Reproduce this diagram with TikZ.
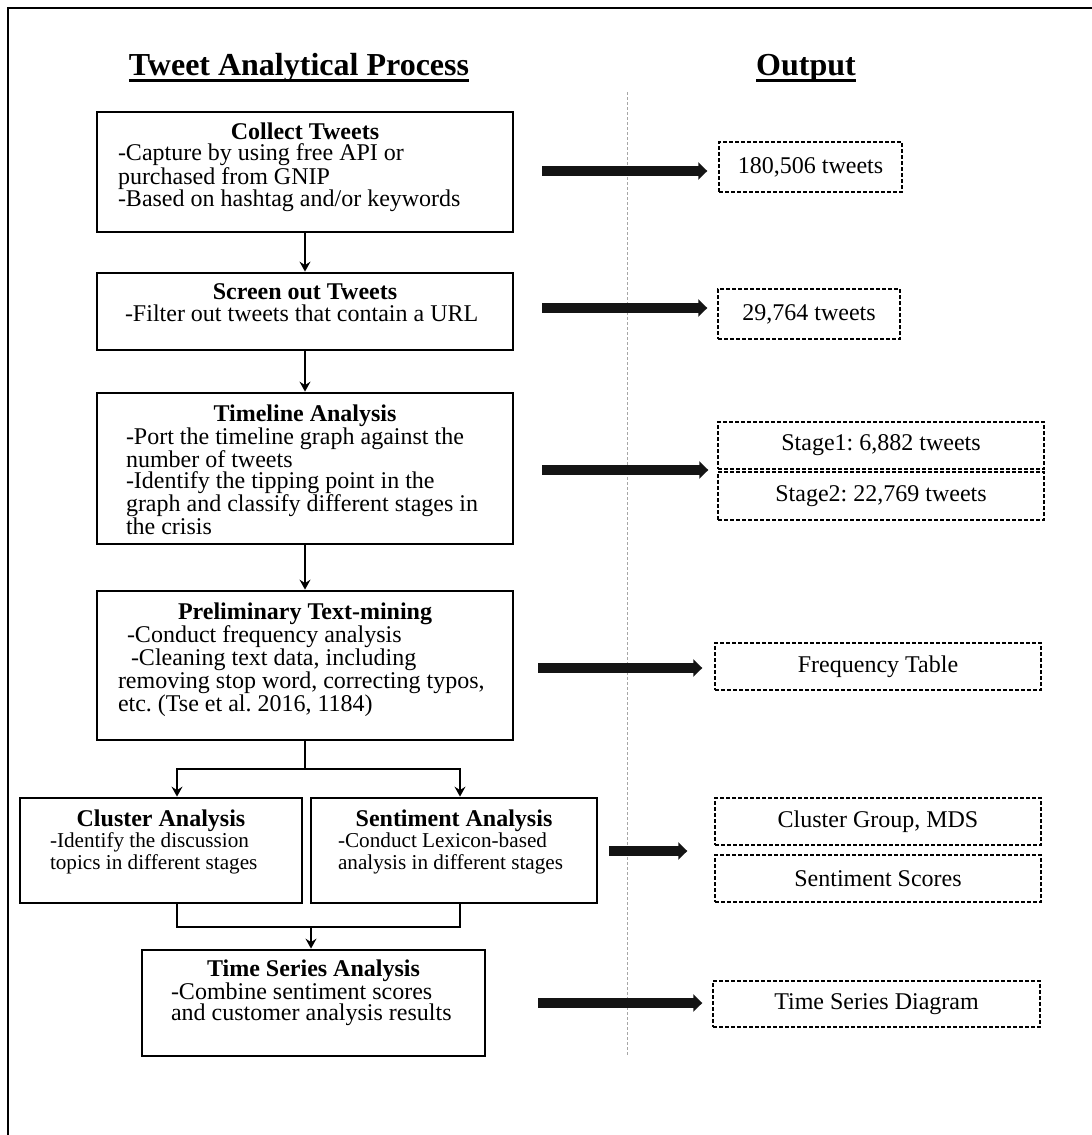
\documentclass[tikz,border=0pt]{standalone}
\usepackage{fontspec}
\setmainfont{Liberation Serif}
\usetikzlibrary{arrows.meta,calc}
\setlength{\lineskiplimit}{-20pt}
\frenchspacing

\begin{document}
\begin{tikzpicture}[x=1pt,y=1pt,font=\fontsize{24}{21.5}\selectfont]
  \useasboundingbox (0,0) rectangle (1092,-1135);

  % frame and divider
  \draw[line width=2pt] (8,-1135) -- (8,-8) -- (1092,-8);
  \draw[gray!70,line width=1pt,dash pattern=on 3pt off 2pt] (627,-92) -- (627,-1055);

  % headings
  \begin{scope}[every node/.style={anchor=base,inner sep=0pt,font=\fontsize{32}{36}\selectfont\bfseries}]
    \node (head1) at (299,-75) {Tweet Analytical Process};
    \node (head2) at (806,-75) {Output};
  \end{scope}
  \draw[line width=3pt] ([yshift=-5pt]head1.base west) -- ([yshift=-5pt]head1.base east);
  \draw[line width=3pt] ([yshift=-5pt]head2.base west) -- ([yshift=-5pt]head2.base east);

  % process boxes
  \begin{scope}[every node/.style={draw,line width=2.8pt,inner sep=0pt}]
    \node[minimum width=416pt,minimum height=120pt] (collect)    at (305,-172)    {};
    \node[minimum width=416pt,minimum height=77pt]  (screen)     at (305,-311.5)  {};
    \node[minimum width=416pt,minimum height=151pt] (timeline)   at (305,-468.5)  {};
    \node[minimum width=416pt,minimum height=149pt] (prelim)     at (305,-665.5)  {};
    \node[minimum width=282pt,minimum height=105pt] (cluster)    at (161,-850.5)  {};
    \node[minimum width=286pt,minimum height=105pt] (sentiment)  at (454,-850.5)  {};
    \node[minimum width=343pt,minimum height=106pt] (timeseries) at (313.5,-1003) {};
  \end{scope}

  % box texts
  \begin{scope}[every node/.style={anchor=north,inner sep=0pt,align=flush left}]
    \node[text width=374pt] (collect-txt) at ([yshift=-12pt]collect.north)
      {\makebox[\linewidth]{\textbf{Collect Tweets}}\\-Capture by using free API or\\purchased from GNIP\\-Based on hashtag and/or keywords};
    \node[text width=374pt] (screen-txt) at ([yshift=-12pt]screen.north)
      {\makebox[\linewidth]{\textbf{Screen out Tweets}}\\\hspace*{7pt}-Filter out tweets that contain a URL};
    \node[text width=358pt] (timeline-txt) at ([yshift=-13pt]timeline.north)
      {\makebox[\linewidth]{\textbf{Timeline Analysis}}\\-Port the timeline graph against the\\number of tweets\\-Identify the tipping point in the\\graph and classify different stages in\\the crisis};
    \node[text width=374pt] (prelim-txt) at ([yshift=-13pt]prelim.north)
      {\makebox[\linewidth]{\textbf{Preliminary Text-mining}}\\\hspace*{9pt}-Conduct frequency analysis\\\hspace*{13pt}-Cleaning text data, including\\removing stop word, correcting typos,\\etc. (Tse et al. 2016, 1184)};
    \node[text width=222pt,font=\fontsize{21.2}{21.5}\selectfont] (cluster-txt) at ([yshift=-13pt]cluster.north)
      {\makebox[\linewidth]{\fontsize{24}{21.5}\selectfont\bfseries Cluster Analysis}\\-Identify the discussion\\topics in different stages};
    \node[text width=232pt,font=\fontsize{21.2}{21.5}\selectfont] (sentiment-txt) at ([yshift=-13pt]sentiment.north)
      {\makebox[\linewidth]{\fontsize{24}{21.5}\selectfont\bfseries Sentiment Analysis}\\-Conduct Lexicon-based\\analysis in different stages};
    \node[text width=285pt] (timeseries-txt) at ([yshift=-11pt]timeseries.north)
      {\makebox[\linewidth]{\textbf{Time Series Analysis}}\\-Combine sentiment scores\\and customer analysis results};
  \end{scope}

  % output boxes
  \begin{scope}[every node/.style={draw,line width=1.4pt,dash pattern=on 4pt off 2pt,minimum height=47pt,inner sep=0pt}]
    \node[minimum width=183pt,minimum height=50pt] (o1)     at (810.5,-167)  {180,506 tweets};
    \node[minimum width=182pt,minimum height=50pt] (o2)     at (809,-314)    {29,764 tweets};
    \node[minimum width=326pt]                     (stage1) at (881,-445.5)  {Stage1: 6,882 tweets};
    \node[minimum width=326pt,minimum height=48pt,line width=2.2pt] (stage2) at (881,-496) {Stage2: 22,769 tweets};
    \node[minimum width=326pt]                     (freq)    at (878,-666.5) {Frequency Table};
    \node[minimum width=326pt]                     (clgroup) at (878,-821.5) {Cluster Group, MDS};
    \node[minimum width=326pt]                     (sscores) at (878,-878.5) {Sentiment Scores};
    \node[minimum width=327pt,minimum height=46pt] (tsdiag)  at (876.5,-1004) {Time Series Diagram};
  \end{scope}

  % flow arrows
  \begin{scope}[line width=1.2pt,>={Stealth[length=10pt,width=11pt,inset=3.5pt]}]
    \draw[->] (collect) -- (screen);
    \draw[->] (screen) -- (timeline);
    \draw[->] (timeline) -- (prelim);
    \coordinate (split) at (305,-769);
    \draw (prelim) -- (split);
    \draw[->] (split) -| ($(cluster.north)+(16,0)$);
    \draw[->] (split) -| ($(sentiment.north)+(6,0)$);
    \coordinate (merge) at (311,-927);
    \draw ($(cluster.south)+(16,0)$) |- (merge);
    \draw ($(sentiment.south)+(6,0)$) |- (merge);
    \draw[->] (merge) -- (merge |- timeseries.north);
  \end{scope}

  % output arrows
  \begin{scope}[line width=9.5pt,black!92,-{Triangle[length=9pt,width=17pt]}]
    \coordinate (a1) at (542,-171);
    \coordinate (a2) at (542,-308);
    \coordinate (a3) at (542,-470);
    \coordinate (a4) at (538,-668);
    \coordinate (a5) at (609,-851);
    \coordinate (a6) at (538,-1003);
    \draw[shorten >=11pt] (a1) -- (a1 -| o1.west);
    \draw[shorten >=10pt] (a2) -- (a2 -| o2.west);
    \draw[shorten >=9pt]  (a3) -- (a3 -| stage1.west);
    \draw[shorten >=12pt] (a4) -- (a4 -| freq.west);
    \draw[shorten >=27pt] (a5) -- (a5 -| clgroup.west);
    \draw[shorten >=10pt] (a6) -- (a6 -| tsdiag.west);
  \end{scope}

\end{tikzpicture}
\end{document}
